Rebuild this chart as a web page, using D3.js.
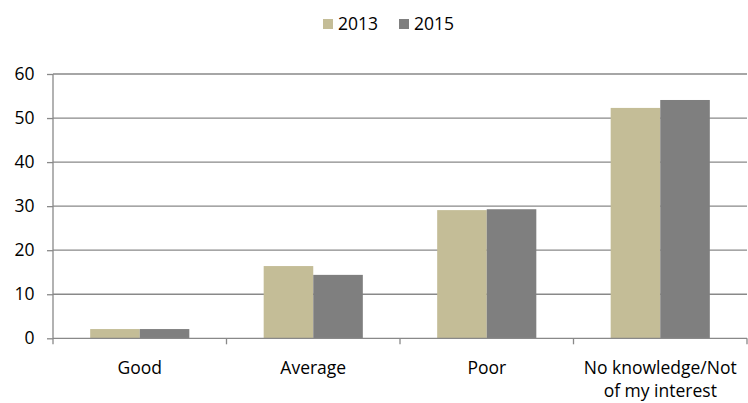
<!DOCTYPE html>
<html>
<head>
<meta charset="utf-8">
<script src="https://cdn.jsdelivr.net/npm/d3@7/dist/d3.min.js"></script>
<style>
  body { margin: 0; background: #fff; }
  svg text { font-family: "Open Sans", sans-serif; fill: #000; }
</style>
</head>
<body>
<svg id="chart" width="748" height="403"></svg>
<script>
const categories = ["Good", "Average", "Poor", "No knowledge/Not of my interest"];
const categoryLines = [["Good"], ["Average"], ["Poor"], ["No knowledge/Not", "of my interest"]];
const seriesNames = ["2013", "2015"];
const values2013 = [2.1, 16.4, 29.1, 52.3];
const values2015 = [2.1, 14.4, 29.3, 54.1];
const yTicks = [0, 10, 20, 30, 40, 50, 60];
const colors = ["#C4BD97", "#7F7F7F"];

const svg = d3.select("#chart");
const plotLeft = 53, plotRight = 747, plotTop = 74, plotBottom = 338.3;
const fontSize = 17.5;

const x = d3.scaleBand().domain(categories).range([plotLeft, plotRight]).paddingInner(0).paddingOuter(0);
const x1 = d3.scaleBand().domain(seriesNames).range([0, x.bandwidth()]).paddingInner(0).paddingOuter(0.75);
const y = d3.scaleLinear().domain([0, 60]).range([plotBottom, plotTop]);

// gridlines
svg.append("g").selectAll("line").data(yTicks.filter(d => d > 0)).join("line")
  .attr("x1", plotLeft).attr("x2", plotRight)
  .attr("y1", d => y(d)).attr("y2", d => y(d))
  .attr("stroke", "#898989").attr("stroke-width", 1.3);

// bars
const series = [values2013, values2015];
const g = svg.append("g");
series.forEach((vals, si) => {
  g.selectAll(null).data(categories).join("rect")
    .attr("x", c => x(c) + x1(seriesNames[si]))
    .attr("width", x1.bandwidth())
    .attr("y", (c, i) => y(vals[i]))
    .attr("height", (c, i) => y(0) - y(vals[i]))
    .attr("fill", colors[si]);
});

// y axis
const yAxis = svg.append("g").attr("transform", `translate(${plotLeft},0)`)
  .call(d3.axisLeft(y).tickValues(yTicks).tickSize(6).tickPadding(12.5).tickFormat(d3.format("d")));
yAxis.select(".domain").attr("stroke", "#898989").attr("stroke-width", 1.3).attr("d", `M0,${plotTop}V${plotBottom}`);
yAxis.selectAll(".tick line").attr("stroke", "#898989").attr("stroke-width", 1.3);
yAxis.selectAll(".tick text").attr("font-size", fontSize).attr("fill", "#000").attr("font-family", "'Open Sans', sans-serif");

// x axis
const xAxis = svg.append("g").attr("transform", `translate(0,${plotBottom})`);
xAxis.append("line").attr("x1", plotLeft).attr("x2", plotRight).attr("y1", 0).attr("y2", 0)
  .attr("stroke", "#898989").attr("stroke-width", 1.3);
const bounds = categories.map(c => x(c)).concat([x(categories[categories.length - 1]) + x.bandwidth()]);
xAxis.selectAll(".xt").data(bounds).join("line").attr("class", "xt")
  .attr("x1", d => d).attr("x2", d => d).attr("y1", 0).attr("y2", 6)
  .attr("stroke", "#898989").attr("stroke-width", 1.3);
xAxis.selectAll(".xl").data(categories).join("text").attr("class", "xl")
  .attr("x", c => x(c) + x.bandwidth() / 2)
  .attr("text-anchor", "middle").attr("font-size", fontSize)
  .each(function (c, i) {
    d3.select(this).selectAll("tspan").data(categoryLines[i]).join("tspan")
      .attr("x", x(c) + x.bandwidth() / 2)
      .attr("y", (d, j) => 36 + j * 23)
      .text(d => d);
  });

// legend
const legend = svg.append("g");
const legendX = [323, 399];
seriesNames.forEach((s, i) => {
  legend.append("rect").attr("x", legendX[i]).attr("y", 19).attr("width", 10).attr("height", 10).attr("fill", colors[i]);
  legend.append("text").attr("x", legendX[i] + 15).attr("y", 30.3).attr("font-size", fontSize).text(s);
});
</script>
</body>
</html>
